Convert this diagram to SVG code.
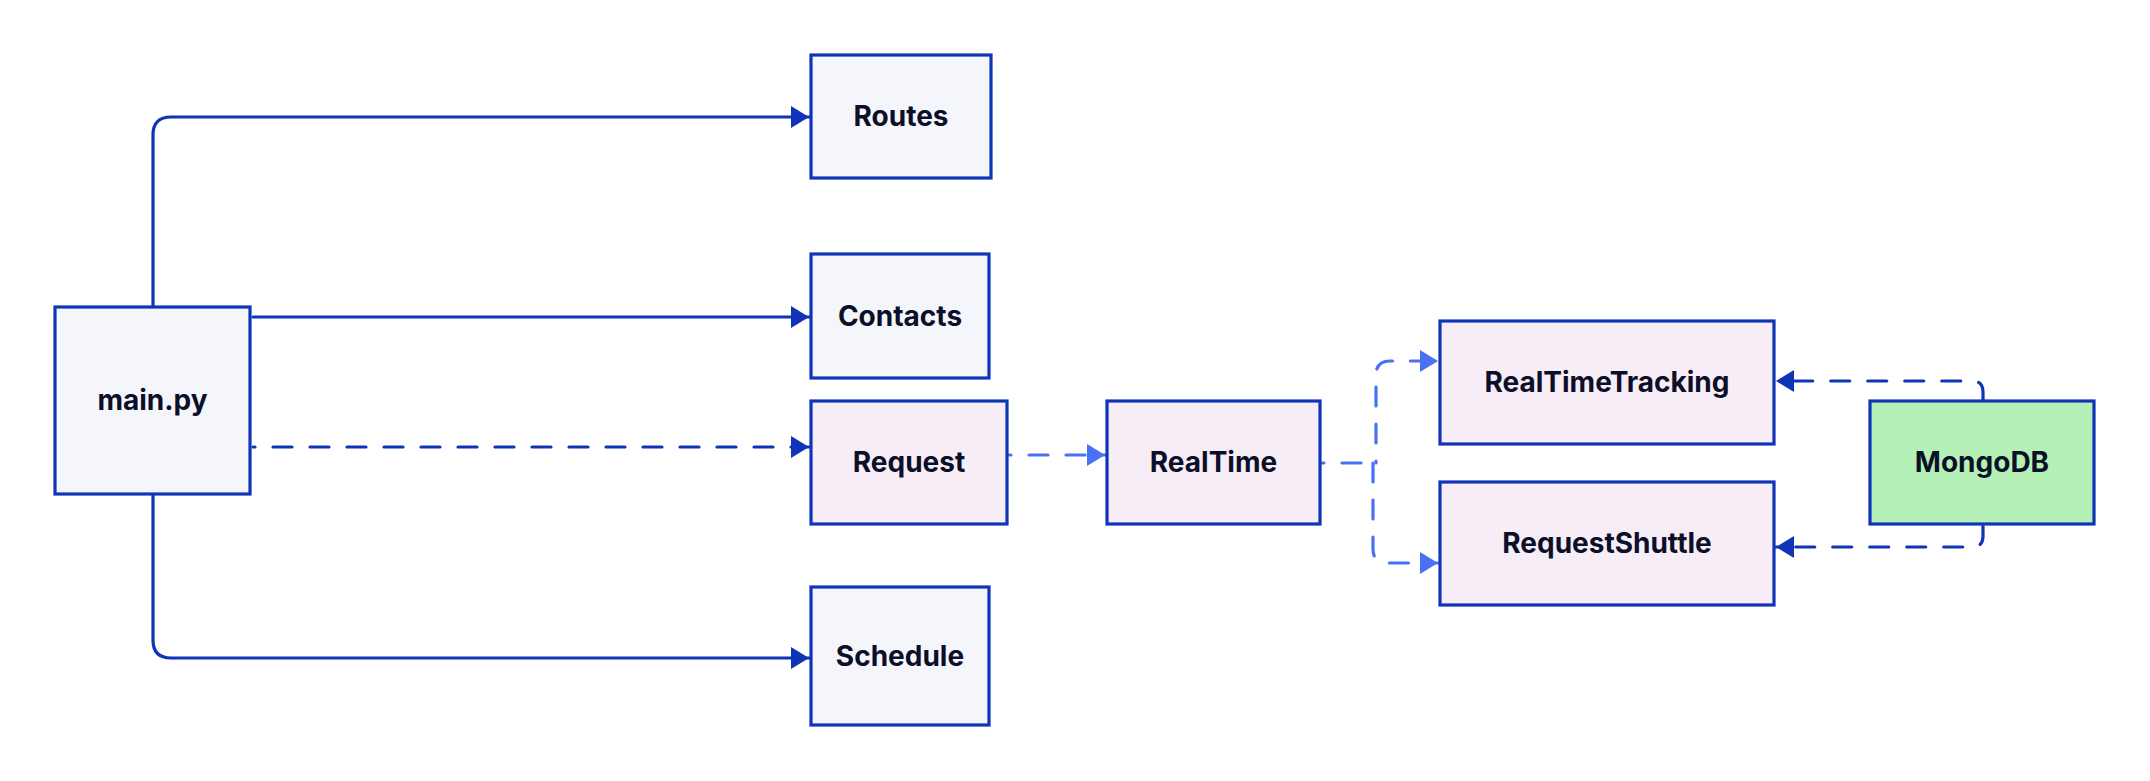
<svg xmlns="http://www.w3.org/2000/svg" width="2150" height="781" viewBox="0 0 2150 781">
<style>
.box{stroke:#1034B8;stroke-width:3.2}
.g{fill:#F5F6FC}
.p{fill:#F7EDF6}
.m{fill:#B5F0B7}
text{font-family:Inter,"Liberation Sans",sans-serif;font-weight:700;font-size:28px;fill:#0B1028;text-anchor:middle;dominant-baseline:central}
.c{fill:none;stroke-width:3.2;stroke-linecap:round;stroke-linejoin:round}
.d{stroke:#1034B8}
.l{stroke:#4A70F4}
.dash{stroke-dasharray:19 18}
.off{stroke-dashoffset:17}
</style>
<defs>
<marker id="ad" markerUnits="userSpaceOnUse" markerWidth="20" markerHeight="24" refX="18" refY="11" orient="auto" viewBox="0 0 20 24">
<path d="M0,0 L18,11 L0,22 z" fill="#1034B8"/>
</marker>
<marker id="al" markerUnits="userSpaceOnUse" markerWidth="20" markerHeight="24" refX="18" refY="11" orient="auto" viewBox="0 0 20 24">
<path d="M0,0 L18,11 L0,22 z" fill="#4A70F4"/>
</marker>
</defs>
<rect width="2150" height="781" fill="#FFFFFF"/>
<g id="connectors">
<path class="c d" d="M153,307 V135 Q153,117 171,117 H809" marker-end="url(#ad)"/>
<path class="c d" d="M253,317 H809" marker-end="url(#ad)"/>
<path class="c d dash off" d="M253,447 H809" marker-end="url(#ad)"/>
<path class="c d" d="M153,495 V640 Q153,658 171,658 H809" marker-end="url(#ad)"/>
<path class="c l dash off" d="M1009,455 H1105" marker-end="url(#al)"/>
<path class="c l dash off" d="M1322,463 H1362 M1376,463 V375 Q1376,361 1390,361 H1438" marker-end="url(#al)"/>
<path class="c l dash" d="M1373,463 V549 Q1373,563 1387,563 H1438" marker-end="url(#al)"/>
<path class="c d dash" d="M1983,400 V392 Q1983,381 1972,381 H1776" marker-end="url(#ad)"/>
<path class="c d dash" d="M1983,526 V536 Q1983,547 1972,547 H1776" marker-end="url(#ad)"/>
</g>
<g id="main"><rect class="box g" x="55" y="307" width="195" height="187"/><text x="152.5" y="400">main.py</text></g>
<g id="routes"><rect class="box g" x="811" y="55" width="180" height="123"/><text x="901" y="116">Routes</text></g>
<g id="contacts"><rect class="box g" x="811" y="254" width="178" height="124"/><text x="900" y="316">Contacts</text></g>
<g id="request"><rect class="box p" x="811" y="401" width="196" height="123"/><text x="909" y="462">Request</text></g>
<g id="schedule"><rect class="box g" x="811" y="587" width="178" height="138"/><text x="900" y="656">Schedule</text></g>
<g id="realtime"><rect class="box p" x="1107" y="401" width="213" height="123"/><text x="1213.5" y="462">RealTime</text></g>
<g id="realtimetracking"><rect class="box p" x="1440" y="321" width="334" height="123"/><text x="1607" y="382">RealTimeTracking</text></g>
<g id="requestshuttle"><rect class="box p" x="1440" y="482" width="334" height="123"/><text x="1607" y="543">RequestShuttle</text></g>
<g id="mongodb"><rect class="box m" x="1870" y="401" width="224" height="123"/><text x="1982" y="462">MongoDB</text></g>
</svg>
